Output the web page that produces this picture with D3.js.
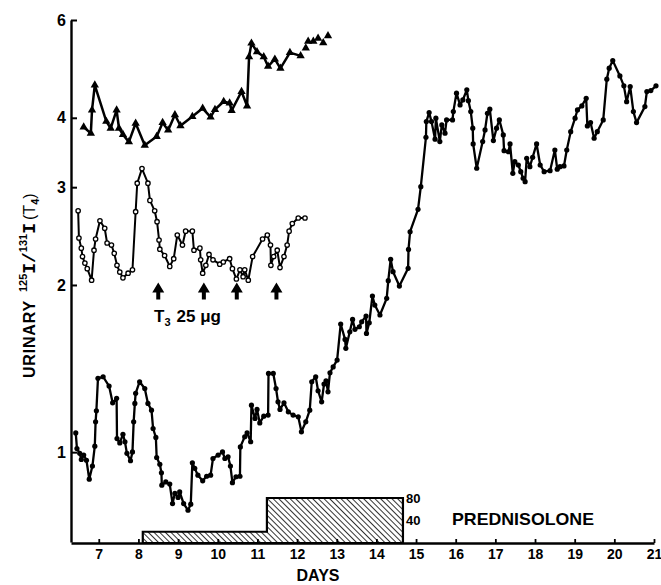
<!DOCTYPE html>
<html><head><meta charset="utf-8">
<script src="https://cdn.jsdelivr.net/npm/d3@7"></script>
<style>body{margin:0;background:#fff}svg{display:block}text{font-family:"Liberation Sans",Arial,sans-serif;font-weight:bold;fill:#000}</style>
</head><body><svg id="c" width="661" height="585"></svg>
<script>
// ---- data ----
const xTicks = [7,8,9,10,11,12,13,14,15,16,17,18,19,20,21];
const yTicks = [1,2,3,4,6];
const predTicks = [40,80];
// [day, ratio]
const triangleSeries = [[6.62,3.85],[6.80,3.75],[6.83,4.13],[6.90,4.58],[7.19,3.94],[7.30,3.83],[7.45,4.13],[7.51,3.83],[7.61,3.73],[7.76,3.62],[7.93,3.91],[8.16,3.57],[8.46,3.70],[8.61,3.92],[8.75,3.80],[8.92,4.05],[9.06,3.87],[9.36,4.02],[9.62,4.16],[9.82,4.01],[9.93,4.14],[10.15,4.28],[10.30,4.25],[10.35,4.12],[10.60,4.46],[10.74,4.20],[10.79,5.15],[10.85,5.45],[10.99,5.26],[11.16,5.15],[11.27,4.95],[11.44,5.10],[11.58,4.91],[11.82,5.24],[12.09,5.17]];
const triangleTail = [[12.22,5.34],[12.28,5.49],[12.41,5.49],[12.53,5.56],[12.66,5.46],[12.78,5.62]];
const circleSeries = [[6.48,2.72],[6.50,2.43],[6.56,2.33],[6.59,2.25],[6.65,2.19],[6.71,2.14],[6.82,2.04],[6.88,2.31],[6.92,2.42],[7.03,2.61],[7.15,2.53],[7.21,2.38],[7.32,2.36],[7.39,2.28],[7.46,2.17],[7.53,2.11],[7.61,2.06],[7.74,2.10],[7.85,2.13],[7.93,2.71],[7.97,3.05],[8.09,3.24],[8.24,3.05],[8.29,2.84],[8.41,2.72],[8.47,2.60],[8.52,2.41],[8.54,2.32],[8.66,2.26],[8.79,2.16],[8.89,2.23],[8.98,2.46],[9.11,2.36],[9.19,2.50],[9.36,2.50],[9.40,2.31],[9.55,2.33],[9.57,2.22],[9.62,2.10],[9.70,2.17],[9.78,2.27],[9.88,2.22],[10.05,2.18],[10.14,2.20],[10.30,2.23],[10.37,2.14],[10.47,2.05],[10.56,2.13],[10.64,2.07],[10.68,2.13],[10.77,2.04],[10.88,2.25],[11.13,2.42],[11.25,2.46],[11.33,2.36],[11.34,2.17],[11.41,2.25],[11.50,2.31],[11.57,2.15],[11.67,2.25],[11.75,2.36],[11.80,2.50],[11.88,2.58],[12.03,2.64],[12.20,2.64]];
const dotSeries = [[6.42,1.083],[6.45,1.015],[6.52,0.995],[6.56,0.970],[6.62,0.988],[6.69,0.967],[6.76,0.894],[6.84,0.944],[6.90,1.025],[6.92,1.134],[6.94,1.187],[6.98,1.358],[7.11,1.367],[7.26,1.315],[7.35,1.227],[7.45,1.250],[7.46,1.058],[7.53,1.039],[7.61,1.077],[7.66,1.044],[7.71,0.995],[7.80,0.965],[7.85,1.001],[7.88,1.134],[7.91,1.224],[7.93,1.276],[8.03,1.339],[8.16,1.302],[8.24,1.224],[8.33,1.190],[8.37,1.103],[8.44,1.063],[8.46,0.978],[8.54,0.951],[8.58,0.918],[8.59,0.872],[8.69,0.884],[8.79,0.876],[8.86,0.808],[8.92,0.843],[9.00,0.829],[9.04,0.848],[9.14,0.808],[9.25,0.786],[9.32,0.806],[9.36,0.957],[9.42,0.935],[9.50,0.909],[9.62,0.888],[9.72,0.905],[9.82,0.909],[9.88,0.974],[10.01,0.988],[10.12,1.001],[10.18,0.974],[10.26,0.981],[10.32,0.944],[10.37,0.881],[10.46,0.903],[10.56,0.905],[10.57,1.022],[10.68,1.066],[10.74,1.083],[10.83,1.044],[10.85,1.215],[10.94,1.150],[10.99,1.194],[11.06,1.129],[11.16,1.161],[11.27,1.166],[11.28,1.386],[11.40,1.386],[11.47,1.302],[11.52,1.232],[11.57,1.194],[11.67,1.227],[11.78,1.182],[11.90,1.166],[12.03,1.158],[12.11,1.088],[12.22,1.134],[12.32,1.190],[12.37,1.339],[12.47,1.367],[12.53,1.290],[12.62,1.232],[12.68,1.326],[12.73,1.344],[12.78,1.284],[12.83,1.390],[12.91,1.424],[13.01,1.465],[13.10,1.701],[13.21,1.596],[13.23,1.538],[13.33,1.647],[13.40,1.734],[13.46,1.664],[13.57,1.682],[13.63,1.717],[13.74,1.758],[13.75,1.636],[13.82,1.710],[13.90,1.910],[13.96,1.840],[14.09,1.766],[14.26,1.892],[14.30,2.036],[14.36,2.225],[14.42,2.113],[14.58,1.991],[14.80,2.143],[14.81,2.318],[14.85,2.494],[15.05,2.737],[15.12,3.006],[15.25,3.690],[15.26,3.937],[15.33,4.087],[15.39,3.937],[15.48,3.660],[15.50,3.994],[15.60,3.624],[15.65,3.884],[15.73,3.753],[15.77,3.965],[15.92,3.965],[15.94,4.104],[16.02,4.430],[16.11,4.219],[16.18,4.307],[16.28,4.491],[16.32,4.295],[16.38,4.104],[16.43,3.831],[16.44,3.589],[16.53,3.245],[16.68,3.624],[16.74,3.804],[16.80,4.076],[16.86,4.145],[16.95,3.639],[17.03,3.831],[17.10,3.965],[17.20,3.726],[17.22,3.490],[17.33,3.475],[17.37,3.589],[17.44,3.178],[17.49,3.335],[17.58,3.289],[17.64,3.199],[17.70,3.113],[17.75,3.069],[17.79,3.382],[17.87,3.266],[17.94,3.396],[18.04,3.589],[18.13,3.289],[18.23,3.199],[18.38,3.213],[18.50,3.500],[18.56,3.232],[18.63,3.266],[18.73,3.276],[18.80,3.500],[18.90,3.777],[19.01,3.994],[19.07,4.132],[19.18,4.202],[19.29,4.338],[19.32,3.868],[19.40,3.921],[19.49,3.675],[19.57,3.777],[19.72,3.965],[19.81,4.694],[19.87,4.914],[19.96,5.070],[20.14,4.759],[20.24,4.566],[20.31,4.277],[20.40,4.552],[20.48,4.104],[20.56,3.921],[20.77,4.190],[20.82,4.460],[20.92,4.477],[21.05,4.566]];
const arrowDays = [8.50, 9.65, 10.48, 11.48];
// prednisolone dose (mg): [start day, end day, dose]
const predSteps = [[8.11,11.24,20],[11.24,14.67,80]];

// ---- drawing ----
const svg = d3.select("#c");
const x = d3.scaleLinear().domain([6.3,21]).range([71,654]);
const y = d3.scaleLog().domain([0.689,6]).range([542,20]);
const yP = d3.scaleLinear().domain([0,80]).range([543,498]);

// hatch pattern
const defs = svg.append("defs");
const pat = defs.append("pattern").attr("id","hatch").attr("patternUnits","userSpaceOnUse")
  .attr("width",4).attr("height",4).attr("patternTransform","rotate(-45)");
pat.append("rect").attr("width",4).attr("height",4).attr("fill","#fff");
pat.append("line").attr("x1",0).attr("y1",0).attr("x2",0).attr("y2",4).attr("stroke","#000").attr("stroke-width",1.6);

// prednisolone area
const predPts = [];
predSteps.forEach((s,i)=>{
  if(i===0) predPts.push([x(s[0]), yP(0)]);
  predPts.push([x(s[0]), yP(s[2])]);
  predPts.push([x(s[1]), yP(s[2])]);
});
predPts.push([x(predSteps[predSteps.length-1][1]), yP(0)]);
svg.append("path").attr("d", d3.line()(predPts)+"Z")
  .attr("fill","url(#hatch)").attr("stroke","#000").attr("stroke-width",2.2).attr("stroke-linejoin","miter");

// pred tick labels
const predEnd = x(predSteps[predSteps.length-1][1]);
svg.selectAll(".pl").data(predTicks).join("text")
  .attr("x", predEnd+3).attr("y", d=>yP(d)).attr("dy","0.36em")
  .attr("font-size",13).attr("font-weight","normal").text(d=>d);
svg.append("text").attr("x",452).attr("y",525).attr("font-size",17)
  .attr("textLength",142).attr("lengthAdjust","spacingAndGlyphs").text("PREDNISOLONE");

// axes
const gy = svg.append("g").attr("transform","translate(71,0)")
  .call(d3.axisLeft(y).tickValues(yTicks).tickFormat(d3.format("d")).tickSizeInner(-6).tickSizeOuter(0).tickPadding(5));
gy.select(".domain").attr("stroke-width",2.4);
gy.selectAll(".tick line").attr("stroke-width",2);
gy.selectAll(".tick text").attr("font-size",16).attr("font-family","'Liberation Sans',Arial,sans-serif").attr("font-weight","bold");

const gx = svg.append("g").attr("transform","translate(0,543)")
  .call(d3.axisBottom(x).tickValues(xTicks).tickSizeInner(-4).tickSizeOuter(0).tickPadding(6));
gx.select(".domain").attr("stroke-width",2.6);
gx.selectAll(".tick line").attr("stroke-width",1.8);
gx.selectAll(".tick text").attr("font-size",14).attr("font-family","'Liberation Sans',Arial,sans-serif").attr("font-weight","bold");

svg.append("text").attr("x",318).attr("y",581).attr("text-anchor","middle").attr("font-size",16).text("DAYS");

// y label
const yl = svg.append("text").attr("transform","translate(35,378) rotate(-90)").attr("font-size",16);
yl.append("tspan").text("URINARY").attr("letter-spacing",0.8);
yl.append("tspan").attr("dx",8).attr("font-size",11).attr("dy",-8).text("125");
yl.append("tspan").attr("font-size",18).attr("dy",8).attr("font-family","'Liberation Mono',monospace").text("I/");
yl.append("tspan").attr("font-size",11).attr("dy",-8).text("131");
yl.append("tspan").attr("font-size",18).attr("dy",8).attr("font-family","'Liberation Mono',monospace").text("I");
yl.append("tspan").attr("font-size",16).attr("dx",3).attr("font-weight","normal").text("(T");
yl.append("tspan").attr("font-size",11).attr("dy",4).text("4");
yl.append("tspan").attr("font-size",16).attr("dy",-4).attr("font-weight","normal").text(")");

const line = d3.line().x(d=>x(d[0])).y(d=>y(d[1]));

// dots series
svg.append("path").attr("d", line(dotSeries)).attr("fill","none").attr("stroke","#000").attr("stroke-width",2.3).attr("stroke-linejoin","round");
svg.selectAll(".dot").data(dotSeries).join("circle").attr("cx",d=>x(d[0])).attr("cy",d=>y(d[1])).attr("r",2.6).attr("fill","#000");

// circle series
svg.append("path").attr("d", line(circleSeries)).attr("fill","none").attr("stroke","#000").attr("stroke-width",2).attr("stroke-linejoin","round");
svg.selectAll(".oc").data(circleSeries).join("circle").attr("cx",d=>x(d[0])).attr("cy",d=>y(d[1])).attr("r",2.2)
  .attr("fill","#fff").attr("stroke","#000").attr("stroke-width",1.3);

// triangle series
svg.append("path").attr("d", line(triangleSeries)).attr("fill","none").attr("stroke","#000").attr("stroke-width",2.5).attr("stroke-linejoin","round");
const tri = d3.symbol().type(d3.symbolTriangle).size(30);
svg.selectAll(".tr").data(triangleSeries.concat(triangleTail)).join("path")
  .attr("d",tri).attr("transform",d=>`translate(${x(d[0])},${y(d[1])})`).attr("fill","#000");

// T3 arrows
arrowDays.forEach(d=>{
  const cx = x(d), t = y(2.02);
  svg.append("path").attr("d",`M${cx},${t} L${cx+6},${t+10} L${cx+2},${t+10} L${cx+2},${t+17} L${cx-2},${t+17} L${cx-2},${t+10} L${cx-6},${t+10} Z`).attr("fill","#000");
});
const t3 = svg.append("text").attr("x",154).attr("y",322).attr("font-size",17);
t3.append("tspan").text("T");
t3.append("tspan").attr("font-size",11).attr("dy",4).text("3");
t3.append("tspan").attr("dy",-4).attr("dx",6).text("25 μg");
</script></body></html>
